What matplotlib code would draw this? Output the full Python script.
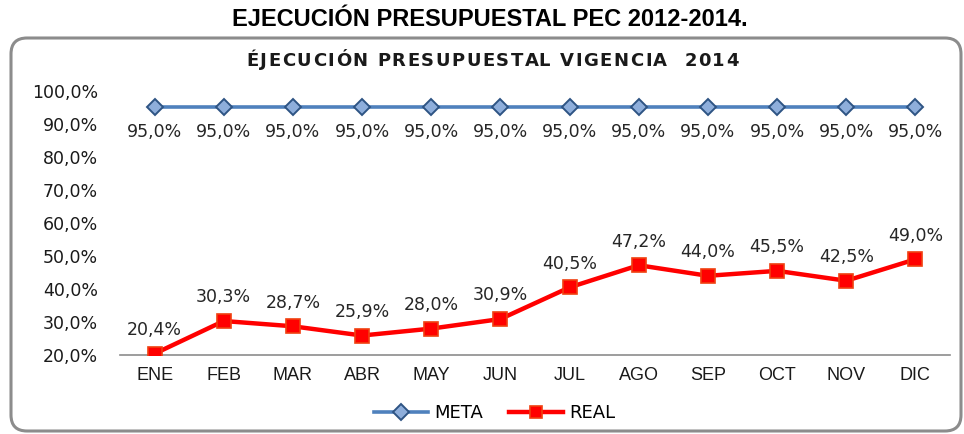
import matplotlib
matplotlib.use("Agg")
import matplotlib.pyplot as plt
from matplotlib.patches import FancyBboxPatch
from matplotlib.ticker import FuncFormatter
from matplotlib.transforms import Affine2D

months = ["ENE", "FEB", "MAR", "ABR", "MAY", "JUN", "JUL", "AGO", "SEP", "OCT", "NOV", "DIC"]
meta = [95.0] * 12
real = [20.4, 30.3, 28.7, 25.9, 28.0, 30.9, 40.5, 47.2, 44.0, 45.5, 42.5, 49.0]
y_ticks = [20, 30, 40, 50, 60, 70, 80, 90, 100]

W, H = 964, 434
fig = plt.figure(figsize=(W / 100, H / 100), dpi=100)

def fx(px):
    return px / W

def fy(py):
    return 1 - py / H

# rounded frame around the chart, laid out in pixel units (origin top-left)
pix = Affine2D().scale(1, -1).translate(0, H)
frame = FancyBboxPatch((11, 38), 950, 393,
                       boxstyle="round,pad=0,rounding_size=16",
                       transform=pix, facecolor="none",
                       edgecolor="#8c8c8c", linewidth=2.2, clip_on=False)
fig.patches.append(frame)

fig.text(0.508, fy(20), "EJECUCIÓN PRESUPUESTAL PEC 2012-2014.",
         ha="center", va="center", fontsize=17, fontweight="bold",
         family="Liberation Sans")

# slightly letter-spaced chart title spread over a fixed width
subtitle = "ÉJECUCIÓN PRESUPUESTAL VIGENCIA  2014"
renderer = fig.canvas.get_renderer()
sub_kw = dict(fontsize=13, fontweight="bold", family="DejaVu Sans",
              color="#1a1a1a", va="center", ha="left")

def text_width(s):
    t = fig.text(0, 0, s, **sub_kw)
    w = t.get_window_extent(renderer).width
    t.remove()
    return w

ref_w = text_width("X")
offsets = [text_width(subtitle[:i] + "X") - ref_w if i else 0.0
           for i in range(len(subtitle))]
natural = text_width(subtitle)
left_px, right_px = 246, 739
spacing = ((right_px - left_px) - natural) / (len(subtitle) - 1)
for i, ch in enumerate(subtitle):
    if ch != " ":
        fig.text(fx(left_px + offsets[i] + i * spacing), fy(61), ch, **sub_kw)

ax = fig.add_axes([fx(120), fy(355), fx(950 - 120), (355 - 91) / H])
x = list(range(len(months)))

ax.plot(x, meta, color="#4f81bd", linewidth=2.6, marker="D", markersize=8,
        markerfacecolor="#8eaedb", markeredgecolor="#2e5484",
        markeredgewidth=1.4, label="META", zorder=3)
ax.plot(x, real, color="#ff0000", linewidth=3.2, marker="s", markersize=10.5,
        markerfacecolor="#ff0000", markeredgecolor="#f04010",
        markeredgewidth=1.2, label="REAL", zorder=3)

def pct(v):
    return f"{v:.1f}".replace(".", ",") + "%"

for xi, v in zip(x, meta):
    ax.annotate(pct(v), (xi, v), xytext=(0, -18), textcoords="offset points",
                ha="center", va="center", fontsize=12.5, color="#262626",
                family="DejaVu Sans")
for xi, v in zip(x, real):
    ax.annotate(pct(v), (xi, v), xytext=(0, 17), textcoords="offset points",
                ha="center", va="center", fontsize=12.5, color="#262626",
                family="DejaVu Sans")

ax.set_xlim(-0.5, 11.5)
ax.set_ylim(20, 100)
ax.set_yticks(y_ticks)
ax.yaxis.set_major_formatter(FuncFormatter(lambda v, _: pct(v)))
ax.set_xticks(x)
ax.set_xticklabels(months, family="Liberation Sans", fontsize=13)
for lab in ax.get_yticklabels():
    lab.set_family("DejaVu Sans")
    lab.set_fontsize(12.5)
ax.tick_params(axis="y", length=0, pad=16, colors="#1a1a1a")
ax.tick_params(axis="x", length=0, pad=9, colors="#1a1a1a")

for side in ["top", "right", "left"]:
    ax.spines[side].set_visible(False)
ax.spines["bottom"].set_color("#8c8c8c")
ax.spines["bottom"].set_linewidth(1.2)
ax.patch.set_alpha(0)

leg = fig.legend(loc="center", bbox_to_anchor=(0.513, fy(413)), ncol=2,
                 frameon=False, handlelength=3.0,
                 columnspacing=1.4, handletextpad=0.35,
                 prop={"family": "DejaVu Sans", "size": 13})
for h in leg.legend_handles:
    h.set_markersize(8)

fig.savefig("out.png", dpi=100)
